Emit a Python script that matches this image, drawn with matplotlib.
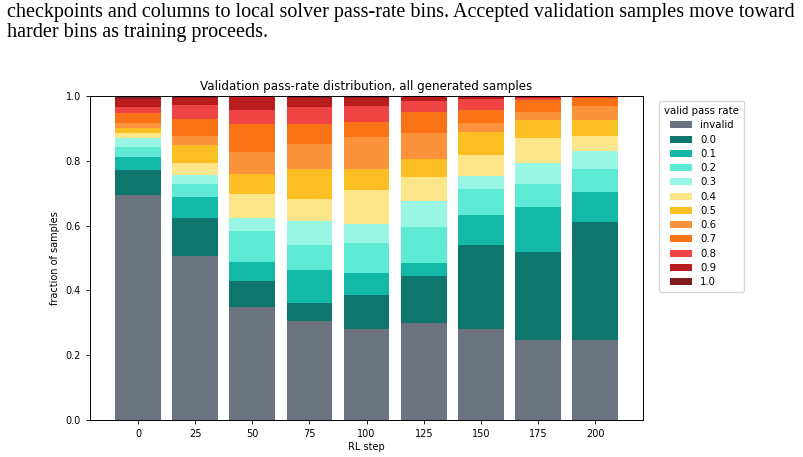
import matplotlib
matplotlib.use("Agg")
import matplotlib.pyplot as plt
import numpy as np

# RL checkpoints (x axis)
steps = [0, 25, 50, 75, 100, 125, 150, 175, 200]

# fraction of samples per pass-rate bin, one value per checkpoint
invalid = [0.694, 0.506, 0.349, 0.306, 0.282, 0.299, 0.282, 0.246, 0.246]
pr_00 = [0.077, 0.117, 0.081, 0.055, 0.104, 0.146, 0.258, 0.273, 0.366]
pr_01 = [0.040, 0.066, 0.058, 0.102, 0.069, 0.040, 0.094, 0.139, 0.092]
pr_02 = [0.033, 0.039, 0.096, 0.076, 0.090, 0.110, 0.079, 0.070, 0.070]
pr_03 = [0.027, 0.027, 0.039, 0.074, 0.061, 0.082, 0.040, 0.064, 0.056]
pr_04 = [0.016, 0.037, 0.075, 0.069, 0.104, 0.072, 0.066, 0.078, 0.047]
pr_05 = [0.015, 0.057, 0.061, 0.092, 0.066, 0.058, 0.070, 0.056, 0.049]
pr_06 = [0.016, 0.028, 0.069, 0.078, 0.097, 0.079, 0.028, 0.024, 0.043]
pr_07 = [0.029, 0.051, 0.086, 0.062, 0.048, 0.064, 0.040, 0.038, 0.025]
pr_08 = [0.019, 0.045, 0.044, 0.052, 0.048, 0.036, 0.033, 0.007, 0.003]
pr_09 = [0.025, 0.021, 0.039, 0.029, 0.026, 0.010, 0.007, 0.004, 0.002]
pr_10 = [0.009, 0.006, 0.003, 0.005, 0.005, 0.004, 0.003, 0.001, 0.001]

bin_labels = ["invalid", "0.0", "0.1", "0.2", "0.3", "0.4", "0.5",
              "0.6", "0.7", "0.8", "0.9", "1.0"]
bin_colors = ["#6b7280", "#0f766e", "#14b8a6", "#5eead4", "#99f6e4", "#fde68a",
              "#fbbf24", "#fb923c", "#f97316", "#ef4444", "#b91c1c", "#7f1d1d"]
series = [invalid, pr_00, pr_01, pr_02, pr_03, pr_04, pr_05,
          pr_06, pr_07, pr_08, pr_09, pr_10]

fig = plt.figure(figsize=(8.04, 4.57), dpi=100)

# caption text from the page above the figure
fig.text(0.009, 0.972, "checkpoints and columns to local solver pass-rate bins. Accepted validation samples move toward",
         family="Liberation Serif", fontsize=14.5, va="center", ha="left")
fig.text(0.009, 0.928, "harder bins as training proceeds.",
         family="Liberation Serif", fontsize=14.5, va="center", ha="left")

ax = fig.add_axes([0.112, 0.081, 0.688, 0.709])

bottom = np.zeros(len(steps))
for vals, lab, col in zip(series, bin_labels, bin_colors):
    ax.bar(steps, vals, width=20, bottom=bottom, color=col, label=lab,
           linewidth=0)
    bottom += np.array(vals)

ax.set_ylim(0, 1.0)
ax.set_xticks(steps)
ax.set_xticklabels([str(s) for s in steps])
ax.tick_params(labelsize=7, length=3, width=0.6)
ax.set_xlabel("RL step", fontsize=7, labelpad=2)
ax.set_ylabel("fraction of samples", fontsize=7, labelpad=4)
ax.set_title("Validation pass-rate distribution, all generated samples", fontsize=8.6, pad=4)
for sp in ax.spines.values():
    sp.set_linewidth(0.7)

ax.legend(title="valid pass rate", fontsize=7.3, title_fontsize=7.3,
          loc="upper left", bbox_to_anchor=(1.02, 1.0),
          handlelength=2.2, handleheight=0.7, labelspacing=0.42,
          borderpad=0.5, frameon=True)

fig.savefig("out.png", dpi=100)
